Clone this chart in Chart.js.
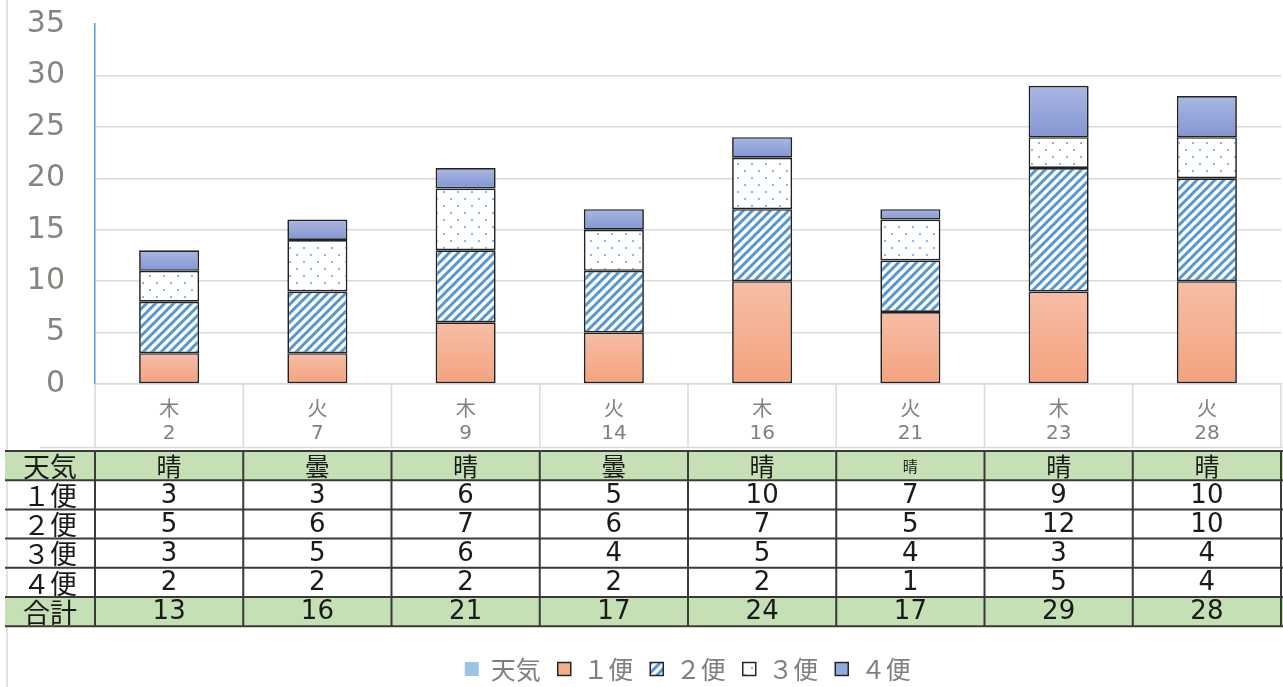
<!DOCTYPE html>
<html lang="ja">
<head>
<meta charset="utf-8">
<title>便別集計</title>
<script src="https://cdn.jsdelivr.net/npm/chart.js@4.4.1/dist/chart.umd.min.js"></script>
<style>
html, body { margin: 0; padding: 0; background: #fff; }
#wrap { width: 1283px; height: 687px; position: relative; }
</style>
</head>
<body>
<div id="wrap"><canvas id="grafico"></canvas></div>
<script>
const dias = ['2', '7', '9', '14', '16', '21', '23', '28'];
const youbi = ['木', '火', '木', '火', '木', '火', '木', '火'];
const tenki = ['晴', '曇', '晴', '曇', '晴', '晴', '晴', '晴'];
const bin1 = [3, 3, 6, 5, 10, 7, 9, 10];
const bin2 = [5, 6, 7, 6, 7, 5, 12, 10];
const bin3 = [3, 5, 6, 4, 5, 4, 3, 4];
const bin4 = [2, 2, 2, 2, 2, 1, 5, 4];
const goukei = [13, 16, 21, 17, 24, 17, 29, 28];
const yTicks = [0, 5, 10, 15, 20, 25, 30, 35];

const fonteNum = '"DejaVu Sans", "Noto Sans CJK JP", sans-serif';
const fonteJp = '"Noto Sans CJK JP", sans-serif';

// padroes de preenchimento
function criarListras() {
    const c = document.createElement('canvas');
    c.width = 9; c.height = 9;
    const g = c.getContext('2d');
    g.fillStyle = '#fff';
    g.fillRect(0, 0, 9, 9);
    g.strokeStyle = '#5596d2';
    g.lineWidth = 3;
    g.beginPath();
    g.moveTo(-2, 11); g.lineTo(11, -2);
    g.moveTo(-2, 2); g.lineTo(2, -2);
    g.moveTo(7, 11); g.lineTo(11, 7);
    g.stroke();
    return g.createPattern(c, 'repeat');
}
function criarPontos() {
    const c = document.createElement('canvas');
    c.width = 14; c.height = 14;
    const g = c.getContext('2d');
    g.fillStyle = '#fff';
    g.fillRect(0, 0, 14, 14);
    g.fillStyle = '#6fa8dc';
    g.beginPath(); g.arc(3, 3, 1.1, 0, Math.PI * 2); g.fill();
    g.beginPath(); g.arc(10, 10, 1.1, 0, Math.PI * 2); g.fill();
    return g.createPattern(c, 'repeat');
}
const listras = criarListras();
const pontos = criarPontos();

const base4 = bin1.map((v, i) => v + bin2[i] + bin3[i]);
const zeros = bin1.map(() => 0);

function gradiente(cores, base, valores) {
    return ctx => {
        const chart = ctx.chart;
        if (!chart.chartArea || ctx.type !== 'data') return cores[1];
        const y = chart.scales.y;
        const i = ctx.dataIndex;
        const y0 = y.getPixelForValue(base[i] + valores[i]);
        const y1 = y.getPixelForValue(base[i]);
        const g = chart.ctx.createLinearGradient(0, y0, 0, y1);
        g.addColorStop(0, cores[0]);
        g.addColorStop(1, cores[1]);
        return g;
    };
}

const legendaFill = ['#9dc3e6', '#f4b183', listras, pontos, '#8faadc'];
const legendaBorda = ['#9dc3e6', '#262626', '#262626', '#262626', '#262626'];

// tabela de dados debaixo do eixo
const tabelaPlugin = {
    id: 'tabela',
    afterDraw(chart) {
        const { ctx, chartArea, scales: { x } } = chart;
        const esq = chartArea.left, dir = chartArea.right;
        const passo = (dir - esq) / dias.length;
        const topo = chartArea.bottom + 67;
        const alt = 29.2;
        const linhas = [
            { rotulo: '天気', vals: tenki, verde: true, jp: true },
            { rotulo: '１便', vals: bin1 },
            { rotulo: '２便', vals: bin2 },
            { rotulo: '３便', vals: bin3 },
            { rotulo: '４便', vals: bin4 },
            { rotulo: '合計', vals: goukei, verde: true }
        ];
        ctx.save();
        // borda da pagina
        ctx.strokeStyle = '#d9d9d9';
        ctx.lineWidth = 1.5;
        ctx.beginPath();
        ctx.moveTo(7, 0); ctx.lineTo(7, 687);
        ctx.stroke();
        // separadores das categorias
        ctx.beginPath();
        for (let k = 0; k <= dias.length; k++) {
            const xx = esq + k * passo;
            ctx.moveTo(xx, chartArea.bottom); ctx.lineTo(xx, topo - 3);
        }
        ctx.moveTo(40, topo - 3.5); ctx.lineTo(1283, topo - 3.5);
        ctx.stroke();
        // fundo verde
        linhas.forEach((l, r) => {
            if (l.verde) {
                ctx.fillStyle = '#c5e0b4';
                ctx.fillRect(5, topo + r * alt, 1283 - 5, alt);
            }
        });
        // textos
        ctx.fillStyle = '#1a1a1a';
        ctx.textAlign = 'center';
        ctx.textBaseline = 'middle';
        linhas.forEach((l, r) => {
            const yy = topo + r * alt + alt / 2 + 1;
            ctx.font = '27px ' + fonteJp;
            ctx.fillText(l.rotulo, (5 + esq) / 2, yy);
            l.vals.forEach((v, i) => {
                if (l.jp) {
                    ctx.font = (i === 5 ? '15px ' : '25px ') + fonteJp;
                } else {
                    ctx.font = '26px ' + fonteNum;
                }
                ctx.fillText(String(v), x.getPixelForValue(i), yy);
            });
        });
        // linhas da tabela
        ctx.strokeStyle = '#3a3a3a';
        ctx.lineWidth = 2;
        ctx.beginPath();
        for (let r = 0; r <= linhas.length; r++) {
            const yy = topo + r * alt;
            ctx.moveTo(5, yy); ctx.lineTo(1283, yy);
        }
        for (let k = 0; k <= dias.length; k++) {
            const xx = esq + k * passo;
            ctx.moveTo(xx, topo); ctx.lineTo(xx, topo + linhas.length * alt);
        }
        ctx.stroke();
        ctx.restore();
    }
};

const ctx = document.getElementById('grafico').getContext('2d');
const grafico = new Chart(ctx, {
    type: 'bar',
    data: {
        labels: dias.map((d, i) => [youbi[i], d]),
        datasets: [
            { label: '天気', data: [], backgroundColor: '#9dc3e6' },
            { label: '１便', data: bin1, backgroundColor: gradiente(['#f6bea6', '#f4a27e'], zeros, bin1) },
            { label: '２便', data: bin2, backgroundColor: listras },
            { label: '３便', data: bin3, backgroundColor: pontos },
            { label: '４便', data: bin4, backgroundColor: gradiente(['#aab7e1', '#8396d3'], base4, bin4) }
        ]
    },
    options: {
        responsive: true,
        maintainAspectRatio: false,
        animation: false,
        datasets: {
            bar: {
                borderColor: '#222',
                borderWidth: 1.7,
                borderSkipped: false,
                barPercentage: 0.405,
                categoryPercentage: 1
            }
        },
        layout: { padding: { top: 24, right: 2, left: 0, bottom: 0 } },
        scales: {
            x: {
                stacked: true,
                grid: { display: false, drawTicks: false },
                border: { color: '#d9d9d9', width: 1.5 },
                ticks: {
                    color: '#808080',
                    padding: 15,
                    font: { family: fonteNum, size: 20, lineHeight: 1.15 }
                },
                afterFit: s => { s.height = 255.5; }
            },
            y: {
                stacked: true,
                min: yTicks[0],
                max: yTicks[yTicks.length - 1],
                grid: {
                    drawTicks: false,
                    lineWidth: 1.5,
                    color: c => (c.tick && c.tick.value === yTicks[yTicks.length - 1]) ? 'rgba(0,0,0,0)' : '#d9d9d9'
                },
                border: { color: '#5b9bd5', width: 1.5 },
                ticks: {
                    stepSize: yTicks[1] - yTicks[0],
                    color: '#878480',
                    padding: 30,
                    font: { family: fonteNum, size: 30 }
                },
                afterFit: s => { s.width = 95; s.paddingTop = 0; s.paddingBottom = 0; }
            }
        },
        plugins: {
            tooltip: { enabled: false },
            legend: {
                position: 'bottom',
                fullSize: false,
                maxHeight: 47.5,
                labels: {
                    boxWidth: 13,
                    boxHeight: 13,
                    padding: 17,
                    color: '#7f7f7f',
                    font: { family: fonteJp, size: 25 },
                    generateLabels: chart => chart.data.datasets.map((ds, i) => ({
                        text: ds.label,
                        fillStyle: legendaFill[i],
                        strokeStyle: legendaBorda[i],
                        lineWidth: i === 0 ? 1 : 1.5,
                        fontColor: '#7f7f7f',
                        hidden: false,
                        datasetIndex: i
                    }))
                }
            }
        }
    },
    plugins: [tabelaPlugin]
});
</script>
</body>
</html>
